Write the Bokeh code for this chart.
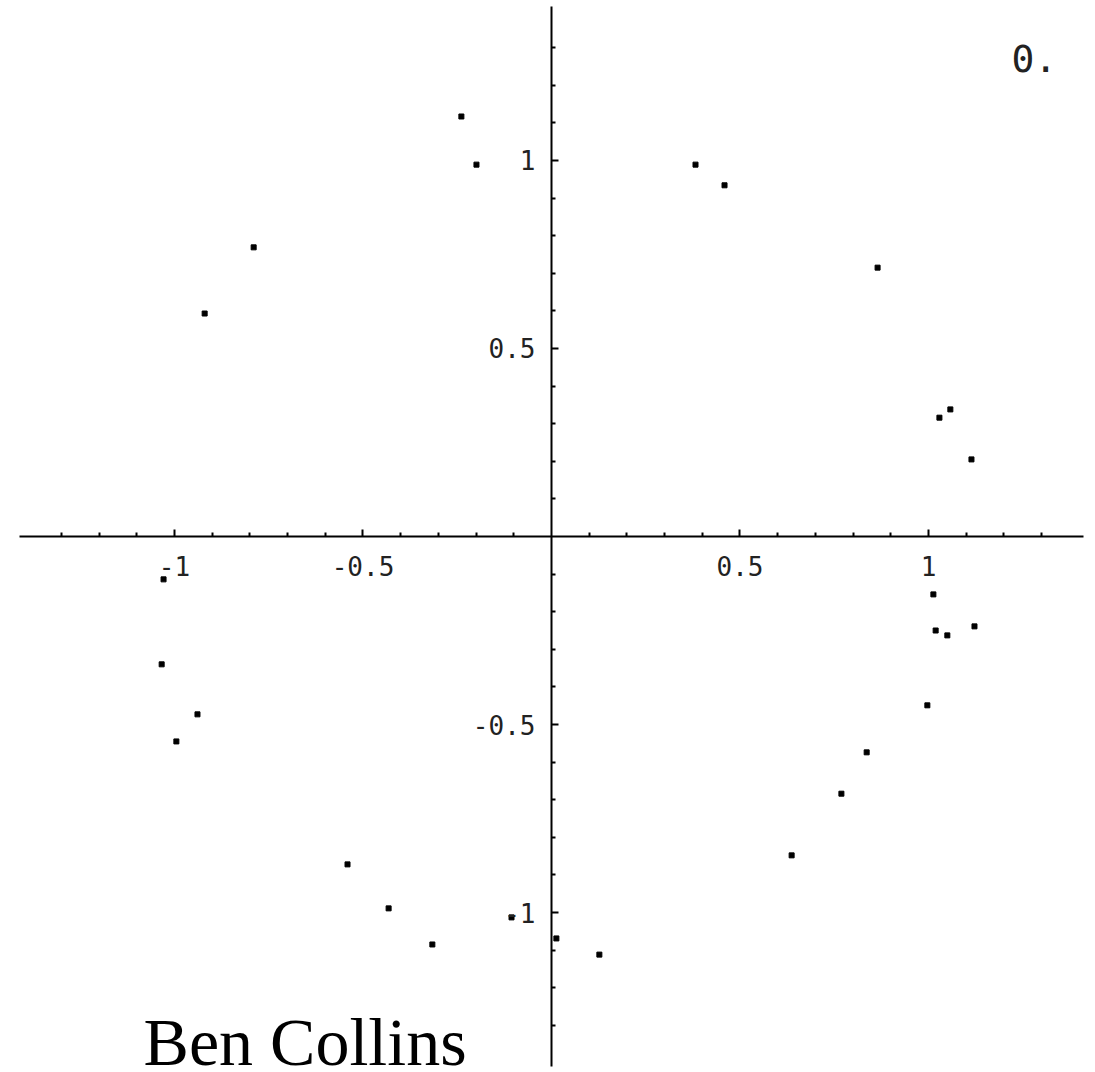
from bokeh.plotting import figure
from bokeh.models import FixedTicker, ColumnDataSource
from bokeh.core.properties import value
from bokeh.embed import file_html
from bokeh.resources import INLINE

# point coordinates
xs = [-0.239, -0.199, 0.382, 0.459, -0.790, -0.920, 0.865, 1.029, 1.058, 1.114,
      -1.029, 1.013, 1.019, 1.050, 1.122, -1.034, -0.939, -0.995, 0.997, 0.836,
      0.769, 0.637, -0.541, -0.432, -0.316, -0.106, 0.013, 0.127]
ys = [1.117, 0.989, 0.989, 0.934, 0.769, 0.593, 0.715, 0.316, 0.338, 0.205,
      -0.114, -0.154, -0.250, -0.263, -0.239, -0.340, -0.473, -0.545, -0.449, -0.574,
      -0.684, -0.848, -0.872, -0.989, -1.085, -1.013, -1.069, -1.112]

major_ticks = [-1, -0.5, 0.5, 1]
minor_ticks = [-1.3, -1.2, -1.1, -0.9, -0.8, -0.7, -0.6, -0.4, -0.3, -0.2, -0.1,
               0.1, 0.2, 0.3, 0.4, 0.6, 0.7, 0.8, 0.9, 1.1, 1.2, 1.3]
frame_label = ["0."]
author = ["Ben Collins"]

p = figure(width=1095, height=1072, output_backend="svg", toolbar_location=None,
           x_range=(-1.4615, 1.4430), y_range=(-1.4255, 1.4255),
           min_border=0)
p.grid.visible = False
p.outline_line_color = None
p.background_fill_color = "white"
p.border_fill_color = "white"

ticker = FixedTicker(ticks=major_ticks, minor_ticks=minor_ticks)
for ax in (p.xaxis[0], p.yaxis[0]):
    ax.fixed_location = 0
    ax.ticker = ticker
    ax.bounds = (-1.41, 1.41)
    ax.axis_line_width = 2
    ax.axis_line_color = "black"
    ax.major_tick_out = 0
    ax.major_tick_in = 7
    ax.minor_tick_out = 0
    ax.minor_tick_in = 4
    ax.major_tick_line_width = 2
    ax.minor_tick_line_width = 2
    ax.major_label_text_font = "DejaVu Sans Mono"
    ax.major_label_text_font_size = "26px"
    ax.major_label_text_color = "#222222"
    ax.major_label_overrides = {-1: "-1", -0.5: "-0.5", 0.5: "0.5", 1: "1"}
p.xaxis[0].major_label_standoff = 19
p.yaxis[0].major_label_standoff = 16

src = ColumnDataSource(dict(x=xs, y=ys))
p.scatter("x", "y", source=src, marker="square", size=5, color="black")

p.text(x=[1.220], y=[1.271], text=frame_label, text_font=value("DejaVu Sans Mono"),
       text_font_size="38px", text_color="#222222", text_align="left",
       text_baseline="alphabetic")
p.text(x=[-1.082], y=[-1.344], text=author, text_font=value("Liberation Serif"),
       text_font_size="68px", text_color="black", text_align="left",
       text_baseline="alphabetic")

open("out.html", "w").write(file_html(p, INLINE))
